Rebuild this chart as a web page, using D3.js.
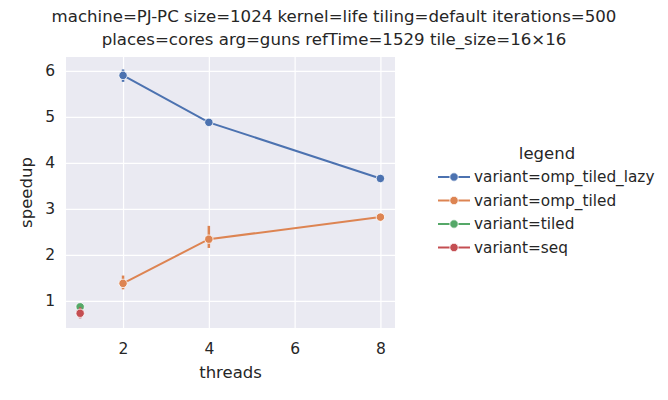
<!DOCTYPE html>
<html lang="en">
<head>
<meta charset="UTF-8">
<title>speedup vs threads</title>
<style>
    html, body { margin: 0; background: white; }
    text { font-family: "DejaVu Sans", sans-serif; fill: #262626; }
</style>
</head>
<body>
<main></main>
<script src="https://d3js.org/d3.v7.min.js"></script>
<script>
    // - - - - - - - - - -
    // Data
    // - - - - - - - - - -
    const titleLines = [
        'machine=PJ-PC size=1024 kernel=life tiling=default iterations=500',
        'places=cores arg=guns refTime=1529 tile_size=16×16'
    ];
    const variants = ['omp_tiled_lazy', 'omp_tiled', 'tiled', 'seq'];
    const colors = ['#4c72b0', '#dd8452', '#55a868', '#c44e52'];

    const lazyThreads = [2, 4, 8];
    const lazySpeedup = [5.90, 4.88, 3.66];
    const lazyLow = [5.76, 4.85, 3.63];
    const lazyHigh = [6.03, 4.91, 3.69];

    const tiledOmpThreads = [2, 4, 8];
    const tiledOmpSpeedup = [1.38, 2.34, 2.82];
    const tiledOmpLow = [1.25, 2.15, 2.79];
    const tiledOmpHigh = [1.55, 2.63, 2.85];

    const tiledThreads = [1];
    const tiledSpeedup = [0.87];
    const tiledLow = [0.83];
    const tiledHigh = [0.91];

    const seqThreads = [1];
    const seqSpeedup = [0.73];
    const seqLow = [0.62];
    const seqHigh = [0.86];

    const xTicks = [2, 4, 6, 8];
    const yTicks = [1, 2, 3, 4, 5, 6];

    function zipSeries(t, v, lo, hi) {
        return t.map(function (d, i) {
            return { x: d, y: v[i], lo: lo[i], hi: hi[i] };
        });
    }

    const series = [
        zipSeries(lazyThreads, lazySpeedup, lazyLow, lazyHigh),
        zipSeries(tiledOmpThreads, tiledOmpSpeedup, tiledOmpLow, tiledOmpHigh),
        zipSeries(tiledThreads, tiledSpeedup, tiledLow, tiledHigh),
        zipSeries(seqThreads, seqSpeedup, seqLow, seqHigh)
    ];

    // - - - - - - - - - -
    // Layout
    // - - - - - - - - - -
    const width = 668, height = 400;
    const plot = { left: 66, right: 395, top: 57, bottom: 328 };

    const svg = d3.select('main').append('svg')
        .attr('width', width)
        .attr('height', height);

    const x = d3.scaleLinear().domain([0.67, 8.34]).range([plot.left, plot.right]);
    const y = d3.scaleLinear().domain([0.41, 6.30]).range([plot.bottom, plot.top]);

    // background + grid
    svg.append('rect')
        .attr('x', plot.left).attr('y', plot.top)
        .attr('width', plot.right - plot.left)
        .attr('height', plot.bottom - plot.top)
        .attr('fill', '#eaeaf2');

    function styleAxis(g) {
        g.select('.domain').remove();
        g.selectAll('line').attr('stroke', 'white').attr('stroke-width', 1.2);
        g.selectAll('text').attr('font-size', 15.5).attr('fill', '#262626')
            .attr('font-family', '"DejaVu Sans", sans-serif');
    }

    svg.append('g')
        .attr('transform', 'translate(0,' + plot.bottom + ')')
        .call(d3.axisBottom(x).tickValues(xTicks).tickFormat(d3.format('d'))
            .tickSize(-(plot.bottom - plot.top)).tickPadding(15))
        .call(styleAxis);

    svg.append('g')
        .attr('transform', 'translate(' + plot.left + ',0)')
        .call(d3.axisLeft(y).tickValues(yTicks).tickFormat(d3.format('d'))
            .tickSize(-(plot.right - plot.left)).tickPadding(11))
        .call(styleAxis);

    // lines, error bars, markers
    const line = d3.line().x(function (d) { return x(d.x); }).y(function (d) { return y(d.y); });

    series.forEach(function (s, i) {
        const g = svg.append('g');
        g.append('path')
            .datum(s)
            .attr('d', line)
            .attr('fill', 'none')
            .attr('stroke', colors[i])
            .attr('stroke-width', 2);
        g.selectAll('line.err')
            .data(s)
            .enter().append('line')
            .attr('class', 'err')
            .attr('x1', function (d) { return x(d.x); })
            .attr('x2', function (d) { return x(d.x); })
            .attr('y1', function (d) { return y(d.lo); })
            .attr('y2', function (d) { return y(d.hi); })
            .attr('stroke', colors[i])
            .attr('stroke-width', 2.5);
        g.selectAll('circle')
            .data(s)
            .enter().append('circle')
            .attr('cx', function (d) { return x(d.x); })
            .attr('cy', function (d) { return y(d.y); })
            .attr('r', 4.2)
            .attr('fill', colors[i])
            .attr('stroke', 'white')
            .attr('stroke-width', 0.8);
    });

    // axis labels
    svg.append('text')
        .attr('x', (plot.left + plot.right) / 2)
        .attr('y', 378)
        .attr('text-anchor', 'middle')
        .attr('font-size', 16.5)
        .text('threads');

    svg.append('text')
        .attr('transform', 'translate(32,' + (plot.top + plot.bottom) / 2 + ') rotate(-90)')
        .attr('text-anchor', 'middle')
        .attr('font-size', 16.5)
        .text('speedup');

    // title
    svg.selectAll('text.title')
        .data(titleLines)
        .enter().append('text')
        .attr('class', 'title')
        .attr('x', 334)
        .attr('y', function (d, i) { return 22 + i * 23; })
        .attr('text-anchor', 'middle')
        .attr('font-size', 16.6)
        .text(function (d) { return d; });

    // legend
    const legend = svg.append('g');
    legend.append('text')
        .attr('x', 547)
        .attr('y', 159)
        .attr('text-anchor', 'middle')
        .attr('font-size', 16.5)
        .text('legend');

    const items = legend.selectAll('g.item')
        .data(variants)
        .enter().append('g')
        .attr('class', 'item')
        .attr('transform', function (d, i) { return 'translate(0,' + (177 + i * 23.5) + ')'; });

    items.append('line')
        .attr('x1', 438).attr('x2', 470)
        .attr('stroke', function (d, i) { return colors[i]; })
        .attr('stroke-width', 2);
    items.append('circle')
        .attr('cx', 454).attr('r', 4.2)
        .attr('fill', function (d, i) { return colors[i]; })
        .attr('stroke', 'white').attr('stroke-width', 0.8);
    items.append('text')
        .attr('x', 474)
        .attr('y', 5)
        .attr('font-size', 15.3)
        .text(function (d) { return 'variant=' + d; });
</script>
</body>
</html>
